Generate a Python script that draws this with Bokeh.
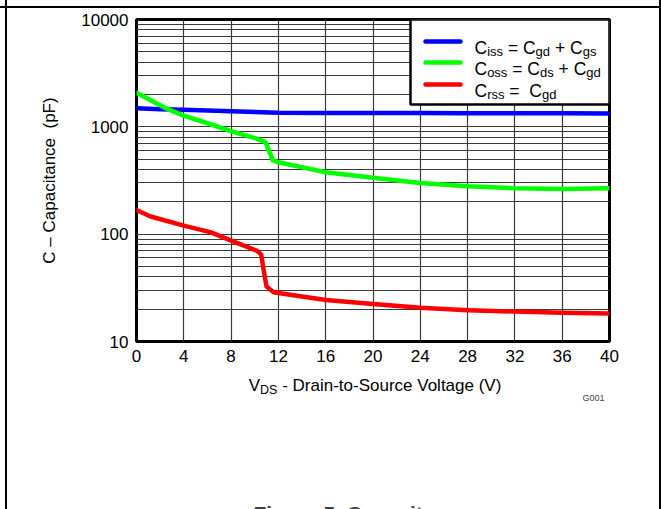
from bokeh.plotting import figure
from bokeh.models import Range1d, FixedTicker, NumeralTickFormatter, BoxAnnotation, Label, LinearScale
from bokeh.embed import file_html
from bokeh.resources import INLINE

# ---------------- data ----------------
vds_iss = [0, 2, 4, 8, 12, 16, 20, 24, 28, 32, 36, 40]
ciss = [1490, 1460, 1440, 1395, 1355, 1348, 1345, 1342, 1340, 1337, 1335, 1332]

vds_oss = [0, 1, 2.3, 4, 6, 8, 10.2, 10.9, 11.2, 11.5, 11.9, 14, 16, 20, 24, 28, 32, 36, 40]
coss = [2075, 1820, 1520, 1270, 1080, 910, 773, 720, 600, 492, 470, 420, 378, 335, 300, 280, 268, 264, 268]

vds_rss = [0, 1.2, 4, 6.3, 8, 10.2, 10.55, 10.8, 11.0, 11.6, 12, 16, 20, 24, 28, 32, 36, 40]
crss = [168, 146, 120, 104, 87, 70, 64.5, 43, 32.5, 28.8, 28.3, 24.4, 22.3, 20.6, 19.6, 19.0, 18.5, 18.2]

series_colors = ["#0000FF", "#00FF00", "#FF0000"]

x_ticks = [0, 4, 8, 12, 16, 20, 24, 28, 32, 36, 40]
y_ticks = [10, 100, 1000, 10000]
y_minor = [20, 30, 40, 50, 60, 70, 80, 90,
           200, 300, 400, 500, 600, 700, 800, 900,
           2000, 3000, 4000, 5000, 6000, 7000, 8000, 9000]

FONT = "Liberation Sans"
TXT = "17px"

# ---------------- figure ----------------
p = figure(width=661, height=509, x_range=Range1d(0, 40), y_range=Range1d(10, 10000),
           y_axis_type="log", output_backend="svg", toolbar_location=None,
           min_border_left=136, min_border_right=52, min_border_top=19, min_border_bottom=168)
p.title.visible = False
p.background_fill_color = "white"
p.border_fill_alpha = 0.0
p.outline_line_color = "black"
p.outline_line_width = 3
# page frame lines of the document page (CSS background behind the transparent border area)
p.styles = {
    "background": ("linear-gradient(#000,#000) 5px 0 / 2px 100% no-repeat, "
                   "linear-gradient(#000,#000) 659px 0 / 2px 100% no-repeat, "
                   "linear-gradient(#000,#000) 0 6px / 100% 2px no-repeat, #fff")
}

p.xaxis.ticker = FixedTicker(ticks=x_ticks)
p.yaxis.ticker = FixedTicker(ticks=y_ticks, minor_ticks=y_minor)
p.yaxis.formatter = NumeralTickFormatter(format="0")

for ax in (p.xaxis, p.yaxis):
    ax.axis_line_color = None
    ax.major_tick_line_color = None
    ax.minor_tick_line_color = None
    ax.major_tick_out = 0
    ax.minor_tick_out = 0
    ax.major_label_text_font = FONT
    ax.major_label_text_font_size = TXT
    ax.major_label_text_color = "black"
p.xaxis.major_label_standoff = 8
p.yaxis.major_label_standoff = 8

p.yaxis.axis_label = "C \u2013 Capacitance \u00a0(pF)"
p.yaxis.axis_label_text_font = FONT
p.yaxis.axis_label_text_font_size = TXT
p.yaxis.axis_label_text_font_style = "normal"
p.yaxis.axis_label_text_color = "black"
p.yaxis.axis_label_standoff = 19

grid_col = "#3a3a3a"
p.xgrid.grid_line_color = grid_col
p.xgrid.grid_line_width = 1.2
p.ygrid.grid_line_color = grid_col
p.ygrid.grid_line_width = 1.2
p.ygrid.minor_grid_line_color = grid_col
p.ygrid.minor_grid_line_width = 1.2

for xs, ys, c in ((vds_iss, ciss, series_colors[0]),
                  (vds_oss, coss, series_colors[1]),
                  (vds_rss, crss, series_colors[2])):
    p.line(xs, ys, line_color=c, line_width=4.5, line_join="round", line_cap="round")

# page-pixel coordinate ranges for layout decorations
p.extra_x_ranges = {"px": Range1d(136, 609)}
p.extra_y_ranges = {"px": Range1d(341, 19)}
p.extra_x_scales = {"px": LinearScale()}
p.extra_y_scales = {"px": LinearScale()}

W = {' ': 278, '(': 333, ')': 333, '+': 584, '-': 333, '.': 278, '=': 584,
     'A': 667, 'C': 722, 'D': 722, 'F': 611, 'G': 778, 'S': 667, 'V': 667,
     'a': 556, 'c': 500, 'd': 556, 'e': 556, 'g': 556, 'i': 222, 'l': 222,
     'n': 556, 'o': 556, 'r': 333, 's': 500, 't': 278, 'u': 556, 'p': 556}


def tw(s, size):
    return sum(W.get(ch, 556) for ch in s) * size / 1000.0


def rich(parts, x0, y, size=17, sub_size=12.5, sub_drop=4, place=None):
    x = x0
    for txt, sub in parts:
        fs = sub_size if sub else size
        if txt.strip():
            lab = Label(x=x, y=y + (sub_drop if sub else 0), text=txt,
                        x_range_name="px", y_range_name="px",
                        text_font=FONT, text_font_size=f"{fs}px",
                        text_baseline="alphabetic", text_align="left",
                        text_color="black")
            if place:
                p.add_layout(lab, place)
            else:
                p.add_layout(lab)
        x += tw(txt, fs)
    return x


# legend box
p.add_layout(BoxAnnotation(left=410, right=609, top=19, bottom=104,
                           x_range_name="px", y_range_name="px",
                           fill_color="white", fill_alpha=1.0,
                           line_color="black", line_width=2.5, line_alpha=1.0))
rows_y = [41, 62, 84]
p.segment(x0=[425] * 3, x1=[460] * 3, y0=rows_y, y1=rows_y, line_color=series_colors,
          line_width=4.5, line_cap="round", x_range_name="px", y_range_name="px", level="overlay")

legend_rows = [
    [("C", False), ("iss", True), (" ", False), ("=", False), (" ", False), ("C", False), ("gd", True),
     (" ", False), ("+", False), (" ", False), ("C", False), ("gs", True)],
    [("C", False), ("oss", True), (" ", False), ("=", False), (" ", False), ("C", False), ("ds", True),
     (" ", False), ("+", False), (" ", False), ("C", False), ("gd", True)],
    [("C", False), ("rss", True), (" ", False), ("=", False), ("  ", False), ("C", False), ("gd", True)],
]
for ry, parts in zip(rows_y, legend_rows):
    rich(parts, 474, ry + 6, size=17.5, sub_size=13)

# x axis label with subscript (drawn in the panel below the frame)
xl_parts = [("V", False), ("DS", True), (" ", False), ("- Drain-to-Source Voltage (V)", False)]
total = sum(tw(t, 12.5 if s else 17) for t, s in xl_parts)
rich(xl_parts, 375 - total / 2, 385, place="below")

# figure code
p.add_layout(Label(x=582, y=397, text="G001", x_range_name="px", y_range_name="px",
                   text_font=FONT, text_font_size="9px", text_baseline="middle"), "below")

# caption (cut off at the bottom of the page)
p.add_layout(Label(x=253, y=501, text="Figure 5. Capacitance", x_range_name="px", y_range_name="px",
                   text_font=FONT, text_font_size="21px", text_font_style="bold",
                   text_baseline="top"), "below")

open("out.html", "w").write(file_html(p, INLINE))
